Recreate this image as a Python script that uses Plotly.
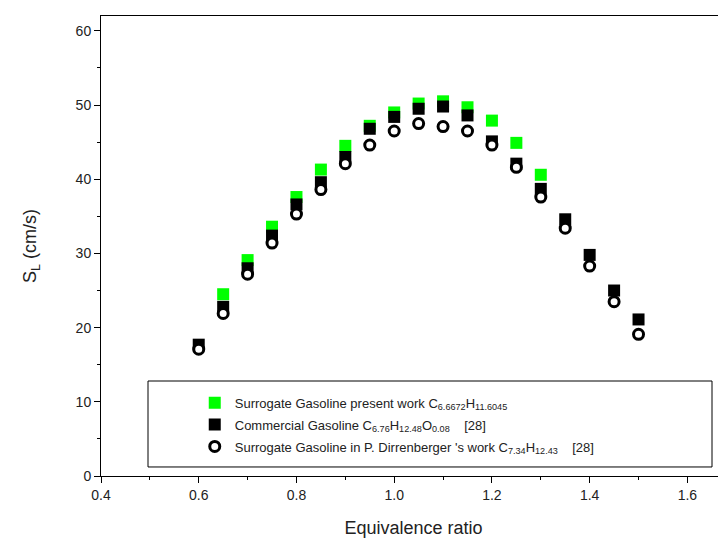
import plotly.graph_objects as go

# equivalence ratio
phi_green = [0.65, 0.70, 0.75, 0.80, 0.85, 0.90, 0.95, 1.00, 1.05, 1.10, 1.15, 1.20, 1.25, 1.30]
phi_all = [0.60, 0.65, 0.70, 0.75, 0.80, 0.85, 0.90, 0.95, 1.00, 1.05, 1.10, 1.15, 1.20,
           1.25, 1.30, 1.35, 1.40, 1.45, 1.50]

# laminar flame speed (cm/s)
sl_present = [24.5, 29.1, 33.6, 37.6, 41.3, 44.5, 47.2, 49.0, 50.2, 50.5, 49.7, 47.9, 44.9, 40.6]
sl_commercial = [17.7, 22.8, 28.0, 32.4, 36.6, 39.6, 43.0, 46.8, 48.4, 49.5, 49.8, 48.6, 45.1,
                 42.1, 38.7, 34.6, 29.8, 25.0, 21.1]
sl_dirrenberger = [17.1, 21.9, 27.2, 31.4, 35.3, 38.6, 42.1, 44.6, 46.5, 47.5, 47.1, 46.5, 44.6,
                   41.6, 37.6, 33.4, 28.3, 23.5, 19.1]

names = [
    "Surrogate Gasoline present work C<sub>6.6672</sub>H<sub>11.6045</sub>",
    "Commercial Gasoline C<sub>6.76</sub>H<sub>12.48</sub>O<sub>0.08</sub>    [28]",
    "Surrogate Gasoline in P. Dirrenberger 's work C<sub>7.34</sub>H<sub>12.43</sub>    [28]",
]

FONT = "Liberation Sans, Arial, sans-serif"

fig = go.Figure()

fig.add_trace(go.Scatter(
    x=phi_green, y=sl_present, mode="markers", name=names[0], legendgroup="a",
    marker=dict(symbol="square", size=12, color="#00ff00", line=dict(width=0)),
))
fig.add_trace(go.Scatter(
    x=phi_all, y=sl_commercial, mode="markers", name=names[1], legendgroup="b",
    marker=dict(symbol="square", size=12, color="#000000", line=dict(width=0)),
))
fig.add_trace(go.Scatter(
    x=phi_all, y=sl_dirrenberger, mode="markers", name=names[2], legendgroup="c",
    marker=dict(symbol="circle", size=10, color="white", line=dict(color="black", width=3)),
))

# legend frame drawn separately so it can be wider than the entries
fig.add_shape(type="rect", xref="paper", yref="paper",
              x0=0.0752, x1=0.9776, y0=0.0196, y1=0.2065,
              line=dict(color="black", width=1), fillcolor="rgba(0,0,0,0)", layer="below")

axis_common = dict(
    showline=True, linecolor="black", linewidth=1,
    ticks="outside", ticklen=6, tickwidth=1, tickcolor="black",
    showgrid=False, zeroline=False,
    tickfont=dict(family=FONT, size=14, color="#222"),
)

# page body adds an 8px margin, so the figure is 8px smaller on each side
fig.update_layout(
    width=718, height=531,
    paper_bgcolor="white", plot_bgcolor="white",
    margin=dict(l=93, r=0, t=8, b=63),
    font=dict(family=FONT, color="#222"),
    showlegend=True,
    legend=dict(
        x=0.150, y=0.192, xanchor="left", yanchor="top",
        bgcolor="rgba(0,0,0,0)", borderwidth=0,
        font=dict(family=FONT, size=13, color="#222"),
        tracegroupgap=2, itemsizing="trace",
    ),
    xaxis=dict(
        range=[0.4, 1.679], tickmode="array",
        tickvals=[0.4, 0.6, 0.8, 1.0, 1.2, 1.4, 1.6],
        ticktext=["0.4", "0.6", "0.8", "1.0", "1.2", "1.4", "1.6"],
        minor=dict(dtick=0.1, tick0=0.4, ticks="outside", ticklen=3, tickcolor="black", showgrid=False),
        mirror=True,
        title=dict(text="Equivalence ratio", font=dict(family=FONT, size=18, color="#222"), standoff=19),
        **axis_common,
    ),
    yaxis=dict(
        range=[0, 62], tickmode="array",
        tickvals=[0, 10, 20, 30, 40, 50, 60],
        minor=dict(dtick=5, tick0=0, ticks="outside", ticklen=3, tickcolor="black", showgrid=False),
        title=dict(text="S<sub>L</sub> (cm/s)", font=dict(family=FONT, size=18, color="#222"), standoff=34),
        **axis_common,
    ),
)

fig.write_html("out.html")
